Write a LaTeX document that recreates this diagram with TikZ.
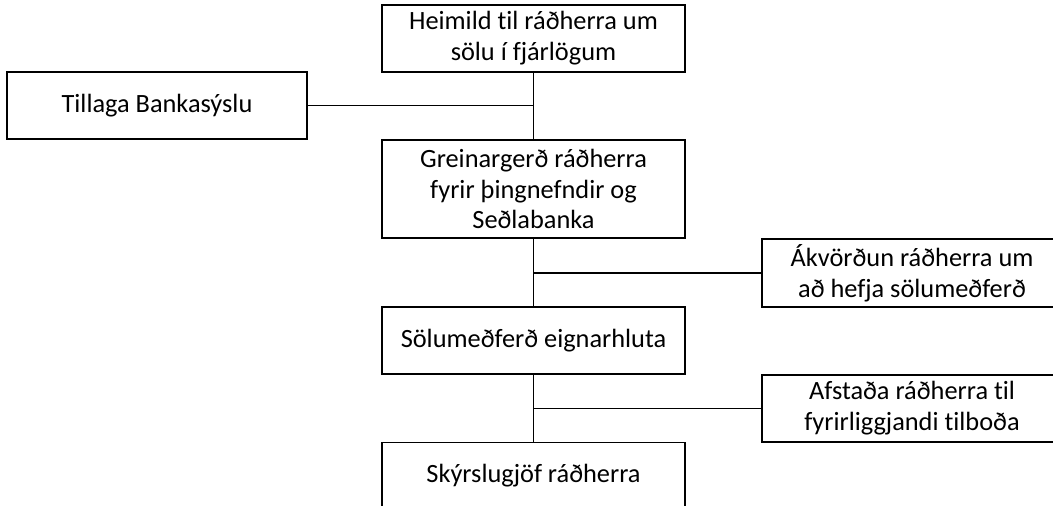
\documentclass[tikz,border=0pt]{standalone}
\usepackage{fontspec}
\setmainfont{Carlito}[Ligatures=NoCommon]
\begin{document}
\begin{tikzpicture}[x=0.02cm, y=-0.02cm, font=\fontsize{15}{17.6}\selectfont,
    box/.style={draw, line width=1pt, align=center, inner sep=0pt, minimum width=6.06cm, minimum height=1.34cm},
    sidebox/.style={align=center, inner sep=0pt, minimum width=6cm, minimum height=1.34cm},
    frame/.style={line width=1pt},
    link/.style={line width=0.8pt}]
    \useasboundingbox (0,0) rectangle (1053,506);
    \clip (0,0) rectangle (1053,506);

    % Main column
    \node[box] (heimild) at (533.5,38.5) {Heimild til ráðherra um\\sölu í fjárlögum};
    \node[box, minimum height=1.96cm] (greinargerd) at (533.5,189) {Greinargerð ráðherra\\fyrir þingnefndir og\\Seðlabanka};
    \node[box] (solumedferd) at (533.5,340.5) {Sölumeðferð eignarhluta};
    \node[box] (skyrslugjof) at (533.5,476) {Skýrslugjöf ráðherra};

    % Side boxes
    \node[box, minimum width=6cm] (tillaga) at (157,105.5) {Tillaga Bankasýslu};
    \node[sidebox] (akvordun) at (912,273) {Ákvörðun ráðherra um\\að hefja sölumeðferð};
    \node[sidebox] (afstada) at (912,408.5) {Afstaða ráðherra til\\fyrirliggjandi tilboða};

    % Right boxes run off the page
    \draw[frame] ([xshift=1cm]akvordun.north east) -- (akvordun.north west) -- (akvordun.south west) -- ([xshift=1cm]akvordun.south east);
    \draw[frame] ([xshift=1cm]afstada.north east) -- (afstada.north west) -- (afstada.south west) -- ([xshift=1cm]afstada.south east);

    % Vertical links
    \draw[link] (heimild) -- (greinargerd);
    \draw[link] (greinargerd) -- (solumedferd);
    \draw[link] (solumedferd) -- (skyrslugjof);

    % Side links
    \draw[link] (tillaga.east) -- (tillaga.east -| heimild.south);
    \draw[link] (akvordun.west) -- (akvordun.west -| greinargerd.south);
    \draw[link] (afstada.west) -- (afstada.west -| solumedferd.south);
\end{tikzpicture}
\end{document}
